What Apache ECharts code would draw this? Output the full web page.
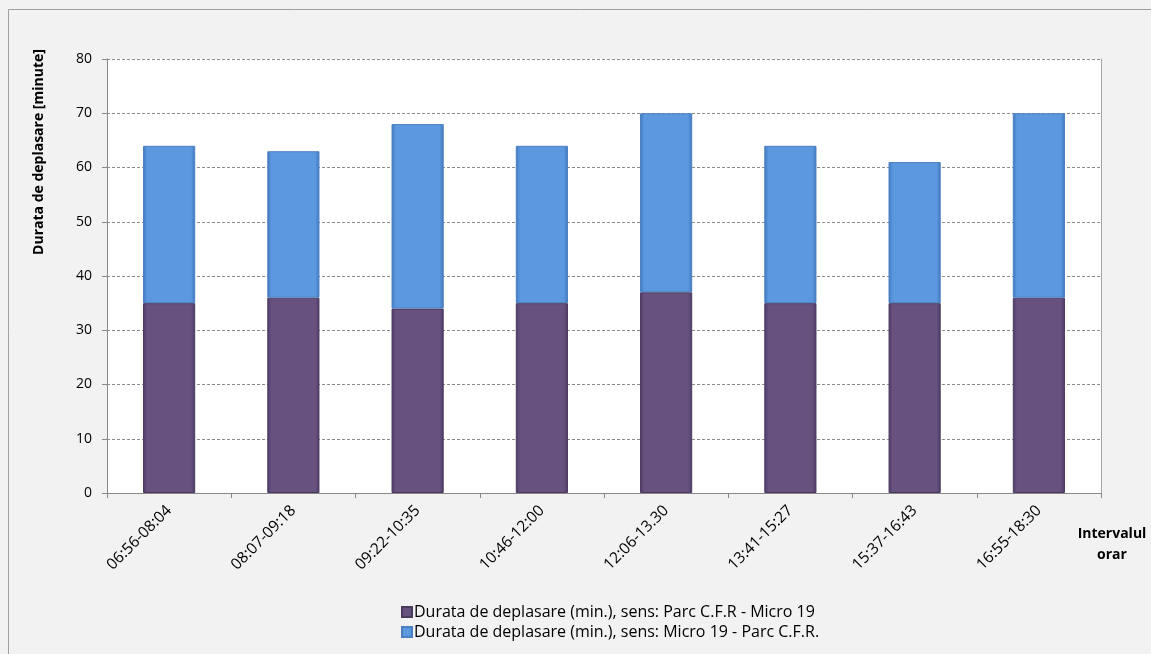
<!DOCTYPE html>
<html><head><meta charset="utf-8">
<script src="https://cdn.jsdelivr.net/npm/echarts@6/dist/echarts.min.js"></script>
<style>html,body{margin:0;padding:0;background:#fff}#c{width:1151px;height:654px}</style>
</head><body><div id="c"></div>
<script>
var categories = ['06:56-08:04','08:07-09:18','09:22-10:35','10:46-12:00','12:06-13.30','13:41-15:27','15:37-16:43','16:55-18:30'];
var seriesNames = ['Durata de deplasare (min.), sens: Parc C.F.R - Micro 19','Durata de deplasare (min.), sens: Micro 19 - Parc C.F.R.'];
var purpleValues = [35, 36, 34, 35, 37, 35, 35, 36];
var blueValues = [29, 27, 34, 29, 33, 29, 26, 34];
var yTicks = [0, 10, 20, 30, 40, 50, 60, 70, 80];

var font = '"Open Sans", "Liberation Sans", sans-serif';
function grad(edge, mid) {
  return new echarts.graphic.LinearGradient(0,0,1,0,[
    {offset:0,color:edge},{offset:0.08,color:mid},{offset:0.92,color:mid},{offset:1,color:edge}]);
}
var chart = echarts.init(document.getElementById('c'), null, {renderer:'canvas'});
chart.setOption({
  backgroundColor: '#f2f2f2',
  animation: false,
  grid: {left:107, right:50, top:59, bottom:161, show:true, backgroundColor:'#ffffff', borderWidth:0},
  graphic: [
    {type:'rect', shape:{x:8.5,y:9.5,width:1200,height:700}, style:{fill:'none', stroke:'#a0a0a0', lineWidth:1}, silent:true},
    {type:'text', x:39, y:152, rotation:Math.PI/2, style:{text:'Durata de deplasare [minute]', font:'bold 14px '+font, fill:'#000', align:'center', verticalAlign:'middle'}},
    {type:'text', x:1112, y:545, style:{text:'Intervalul\norar', font:'bold 14px '+font, fill:'#000', align:'center', verticalAlign:'middle', lineHeight:21}}
  ],
  legend: {
    orient:'vertical', left:396, top:599, itemGap:4, itemWidth:10, itemHeight:10, icon:'rect',
    textStyle:{fontFamily:font, fontSize:16, color:'#000', padding:[0,0,0,-3]},
    data: seriesNames
  },
  xAxis: {
    type:'category', data:categories, boundaryGap:true,
    axisLine:{lineStyle:{color:'#888'}},
    axisTick:{show:true, alignWithLabel:false, length:5, lineStyle:{color:'#888'}},
    axisLabel:{rotate:45, fontFamily:font, fontSize:15.5, color:'#000', margin:15}
  },
  yAxis: [{
    type:'value', min:yTicks[0], max:yTicks[yTicks.length-1], interval:10,
    axisLine:{show:true, lineStyle:{color:'#888'}},
    axisTick:{show:true, length:5, lineStyle:{color:'#888'}},
    axisLabel:{fontFamily:font, fontSize:14, color:'#000', margin:15},
    splitLine:{show:true, lineStyle:{color:'#8c8c8c', type:[3,2], width:1}}
  },{
    type:'value', min:yTicks[0], max:yTicks[yTicks.length-1], interval:10, position:'right',
    axisLine:{show:true, lineStyle:{color:'#a6a6a6'}},
    axisTick:{show:false}, axisLabel:{show:false}, splitLine:{show:false}
  }],
  series: [
    {name:seriesNames[0], type:'bar', stack:'a', data:purpleValues, barWidth:'42%',
     itemStyle:{color:grad('#4f3b66','#67517f'), borderColor:'#4a3a5e', borderWidth:1}},
    {name:seriesNames[1], type:'bar', stack:'a', data:blueValues, barWidth:'42%',
     itemStyle:{color:grad('#3f78be','#5b98df'), borderColor:'#4b7fbf', borderWidth:1}}
  ]
});
</script></body></html>
